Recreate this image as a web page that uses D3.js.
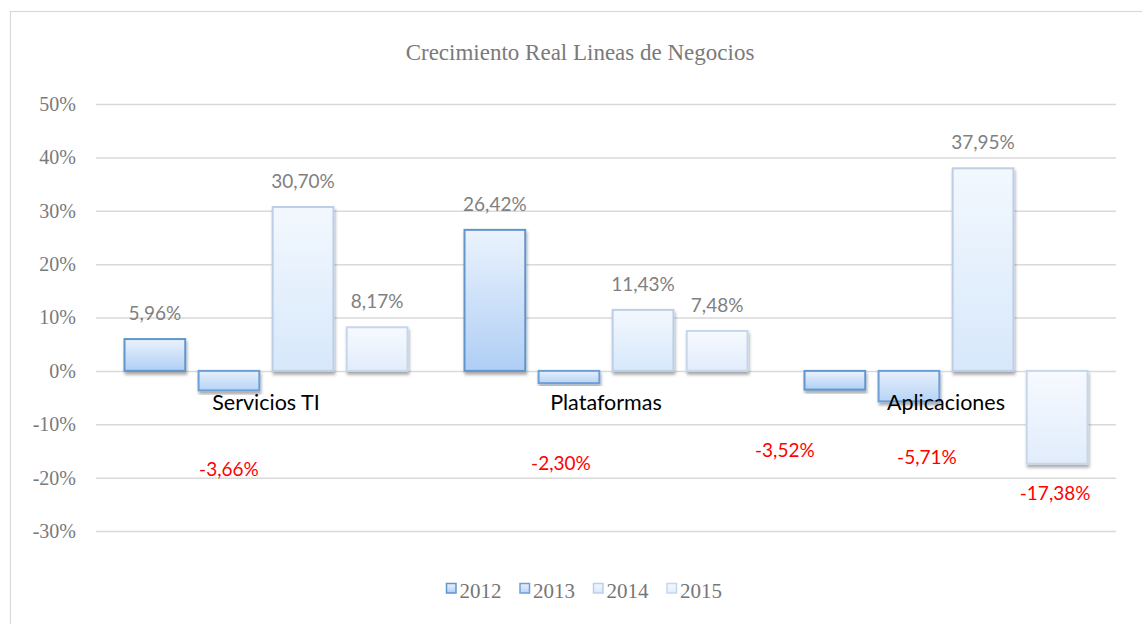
<!DOCTYPE html>
<html><head><meta charset="utf-8">
<script src="https://cdn.jsdelivr.net/npm/d3@7"></script>
<style>
html,body{margin:0;padding:0;background:#fff;}
svg{display:block;}
</style></head>
<body>
<svg id="chart" width="1142" height="624"></svg>
<script>
// ---- data ----
const categories = ["Servicios TI", "Plataformas", "Aplicaciones"];
const years = ["2012", "2013", "2014", "2015"];
const values2012 = [5.96, 26.42, -3.52];
const values2013 = [-3.66, -2.30, -5.71];
const values2014 = [30.70, 11.43, 37.95];
const values2015 = [8.17, 7.48, -17.38];
const yTicks = [-30, -20, -10, 0, 10, 20, 30, 40, 50];
const title = "Crecimiento Real Lineas de Negocios";

const seriesValues = [values2012, values2013, values2014, values2015];

// ---- styles / layout ----
const seriesStyle = [
  {stroke: "#6196cc", top: "#ebf3fd", bottom: "#afcef5"},
  {stroke: "#6c9fd5", top: "#e6f0fc", bottom: "#b7d4f6"},
  {stroke: "#bccfe7", top: "#f3f8fe", bottom: "#d7e8fb"},
  {stroke: "#c7d7eb", top: "#f7faff", bottom: "#e1ecfb"}
];
// manual nudges (px) of negative value labels, as placed in the original
const negNudge = {
  "Servicios TI|2013": [0, 66],
  "Plataformas|2013": [-8, 67],
  "Aplicaciones|2012": [-50, 47],
  "Aplicaciones|2013": [18, 43],
  "Aplicaciones|2015": [-2, 16]
};

const svg = d3.select("#chart");
const pLeft = 96, pRight = 1116, pTop = 104, pBottom = 531;

// frame
svg.append("rect").attr("x", 10.5).attr("y", 11.5).attr("width", 1200).attr("height", 700)
  .attr("fill", "#fff").attr("stroke", "#d9d9d9").attr("stroke-width", 1.2);

const defs = svg.append("defs");
seriesStyle.forEach((s, i) => {
  const g = defs.append("linearGradient").attr("id", "g" + i)
    .attr("x1", 0).attr("y1", 0).attr("x2", 0).attr("y2", 1);
  g.append("stop").attr("offset", "0%").attr("stop-color", s.top);
  g.append("stop").attr("offset", "100%").attr("stop-color", s.bottom);
});
const f = defs.append("filter").attr("id", "shadow")
  .attr("x", "-20%").attr("y", "-20%").attr("width", "140%").attr("height", "140%");
f.append("feDropShadow").attr("dx", 1).attr("dy", 3).attr("stdDeviation", 1.8)
  .attr("flood-color", "#000").attr("flood-opacity", 0.32);

const y = d3.scaleLinear().domain([-30, 50]).range([pBottom, pTop]);
const x0 = d3.scaleBand().domain(categories).range([pLeft, pRight]).padding(0);
const x1 = d3.scaleBand().domain(years)
  .range([28.5, x0.bandwidth() - 28.5]).paddingInner(0.18).paddingOuter(0);

// title
svg.append("text").attr("x", 580).attr("y", 60).attr("text-anchor", "middle")
  .attr("font-family", "'Liberation Serif','Times New Roman',serif")
  .attr("font-size", 23).attr("fill", "#7a7a7a").text(title);

// grid + y axis
const yAxis = d3.axisLeft(y).tickValues(yTicks).tickSize(-(pRight - pLeft))
  .tickPadding(20).tickFormat(d => d + "%");
const ga = svg.append("g").attr("transform", `translate(${pLeft},0)`).call(yAxis);
ga.select(".domain").remove();
ga.selectAll(".tick line").attr("stroke", "#d9d9d9").attr("stroke-width", 1.5);
ga.selectAll(".tick text").attr("font-family", "'Liberation Serif','Times New Roman',serif")
  .attr("font-size", 20).attr("fill", "#7a7a7a").attr("x", -20);

// bars
const flat = [];
categories.forEach((c, ci) => {
  years.forEach((yr, si) => {
    flat.push({cat: c, year: yr, si: si, v: seriesValues[si][ci]});
  });
});

const bars = svg.append("g");
bars.selectAll("rect").data(flat).join("rect")
  .attr("x", d => x0(d.cat) + x1(d.year))
  .attr("width", x1.bandwidth())
  .attr("y", d => y(Math.max(0, d.v)))
  .attr("height", d => Math.abs(y(d.v) - y(0)))
  .attr("fill", d => `url(#g${d.si})`)
  .attr("stroke", d => seriesStyle[d.si].stroke)
  .attr("stroke-width", 2)
  .attr("filter", "url(#shadow)");

// category labels
svg.append("g").selectAll("text").data(categories).join("text")
  .attr("x", d => x0(d) + x0.bandwidth() / 2)
  .attr("y", 410)
  .attr("text-anchor", "middle")
  .attr("font-family", "Lato, 'Open Sans', sans-serif")
  .attr("font-size", 21.5).attr("fill", "#000").text(d => d);

// value labels
const fmt = v => v.toFixed(2).replace(".", ",") + "%";
svg.append("g").selectAll("text").data(flat).join("text")
  .attr("x", d => {
    const cx = x0(d.cat) + x1(d.year) + x1.bandwidth() / 2;
    const n = d.v < 0 ? (negNudge[d.cat + "|" + d.year] || [0, 0]) : [0, 0];
    return cx + n[0];
  })
  .attr("y", d => {
    if (d.v >= 0) return y(d.v) - 19;
    const n = negNudge[d.cat + "|" + d.year] || [0, 0];
    return y(d.v) + 20 + n[1];
  })
  .attr("text-anchor", "middle")
  .attr("font-family", "Lato, 'Open Sans', sans-serif")
  .attr("font-size", 19)
  .attr("fill", d => d.v < 0 ? "#ff0000" : "#808080")
  .text(d => fmt(d.v));

// legend
const leg = svg.append("g").attr("transform", "translate(446,583)");
const li = leg.selectAll("g").data(years).join("g")
  .attr("transform", (d, i) => `translate(${i * 73.5},0)`);
li.append("rect").attr("x", 0.5).attr("y", 0.5).attr("width", 9.5).attr("height", 9.5)
  .attr("fill", (d, i) => `url(#g${i})`)
  .attr("stroke", (d, i) => seriesStyle[i].stroke).attr("stroke-width", 1.5);
li.append("text").attr("x", 13.5).attr("y", 15)
  .attr("font-family", "'Liberation Serif','Times New Roman',serif")
  .attr("font-size", 21).attr("fill", "#767676").text(d => d);
</script>
</body></html>
